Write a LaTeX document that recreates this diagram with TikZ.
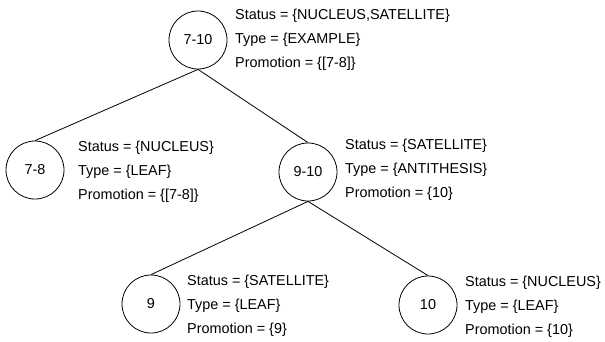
\documentclass[tikz,border=0pt]{standalone}
\usepackage{fontspec}
\setmainfont{Liberation Sans}
\begin{document}
\begin{tikzpicture}[x=1pt,y=-1pt,
  tnode/.style={draw,circle,minimum size=58pt,inner sep=0pt,line width=0.8pt,font=\fontsize{14.4}{24}\selectfont},
  info/.style={anchor=west,align=left,inner sep=0pt,font=\fontsize{14.4}{24}\selectfont},
  edge/.style={line width=0.8pt}]
\useasboundingbox (0,0) rectangle (605,341);
\node[tnode] (a) at (198,40) {7-10};
\node[tnode] (b) at (35,170) {7-8};
\node[tnode] (c) at (308,172) {9-10};
\node[tnode] (d) at (151,304) {9};
\node[tnode] (e) at (428,305) {10};
\node[info] (ta) at (235,40) {Status = \{NUCLEUS,SATELLITE\}\\Type = \{EXAMPLE\}\\Promotion = \{[7-8]\}};
\node[info] (tb) at (78,172) {Status = \{NUCLEUS\}\\Type = \{LEAF\}\\Promotion = \{[7-8]\}};
\node[info] (tc) at (345,170) {Status = \{SATELLITE\}\\Type = \{ANTITHESIS\}\\Promotion = \{10\}};
\node[info] (td) at (187,306) {Status = \{SATELLITE\}\\Type = \{LEAF\}\\Promotion = \{9\}};
\node[info] (te) at (465,307) {Status = \{NUCLEUS\}\\Type = \{LEAF\}\\Promotion = \{10\}};
\draw[edge] (a.south) -- (b.north);
\draw[edge] (a.south) -- (c.north);
\draw[edge] (c.south) -- (d.north);
\draw[edge] (c.south) -- (e.north);
\end{tikzpicture}
\end{document}
